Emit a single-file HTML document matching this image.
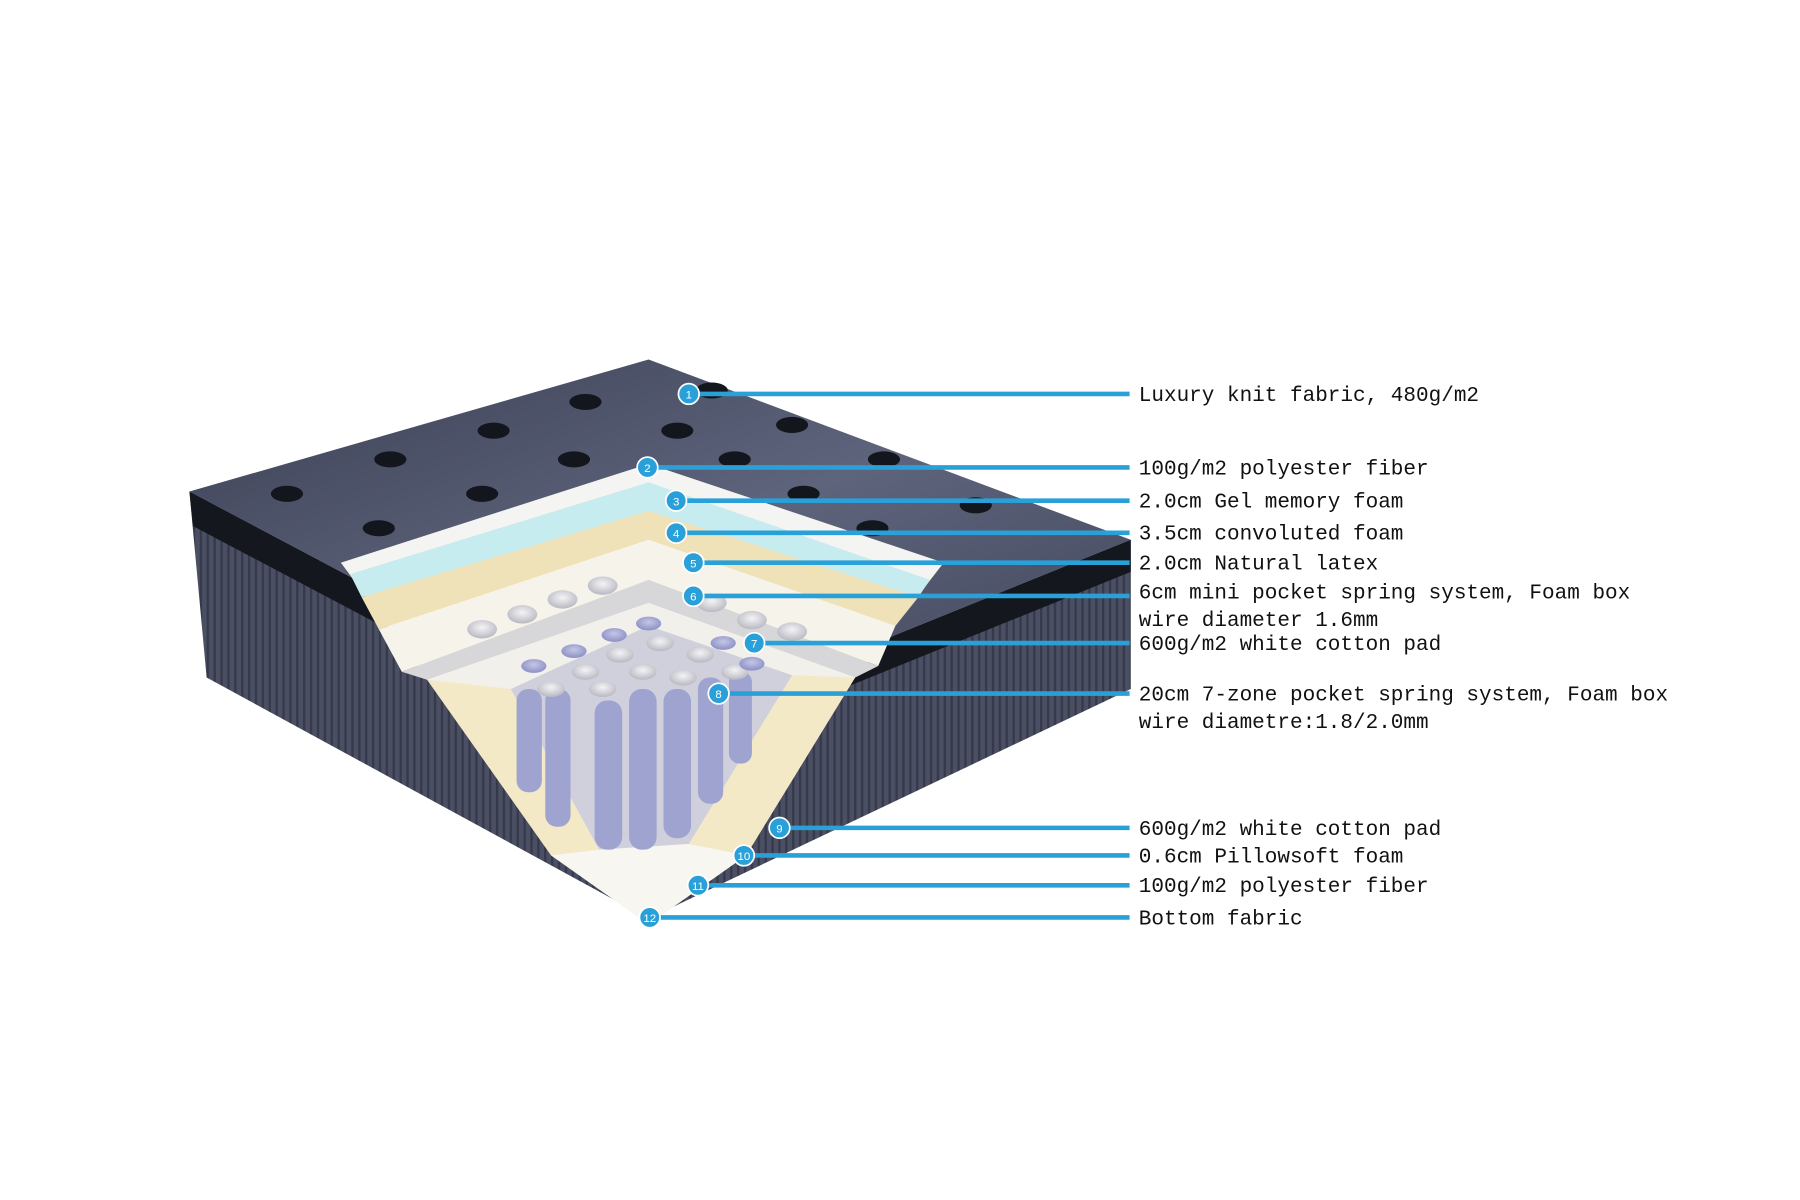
<!DOCTYPE html>
<html><head><meta charset="utf-8"><style>html,body{margin:0;padding:0;background:#fff}svg{display:block}</style></head>
<body>
<svg width="1800" height="1200" viewBox="0 0 1568 1045" xmlns="http://www.w3.org/2000/svg">
<defs>
<linearGradient id="top" x1="0" y1="0" x2="1" y2="1"><stop offset="0" stop-color="#3a3f52"/><stop offset="0.5" stop-color="#5e647c"/><stop offset="1" stop-color="#3d4256"/></linearGradient>
<pattern id="stripe" width="6" height="6" patternUnits="userSpaceOnUse"><rect width="6" height="6" fill="#4a4f63"/><rect width="2" height="6" fill="#353949"/></pattern>
<radialGradient id="coil" cx="0.5" cy="0.4" r="0.6"><stop offset="0" stop-color="#f4f4f6"/><stop offset="1" stop-color="#b8b8c2"/></radialGradient>
<radialGradient id="pcoil" cx="0.5" cy="0.4" r="0.6"><stop offset="0" stop-color="#c4c6e8"/><stop offset="1" stop-color="#8c90c4"/></radialGradient>
</defs>
<polygon points="165,428 565,640 565,800 180,590" fill="url(#stripe)"/>
<polygon points="565,640 985,470 985,600 565,800" fill="url(#stripe)"/>
<polygon points="165,428 565,640 565,668 168,458" fill="#15171f"/>
<polygon points="565,640 985,470 985,498 565,668" fill="#15171f"/>
<polygon points="165,428 565,313 985,470 565,640" fill="url(#top)"/>
<g fill="#14161e">
<ellipse cx="250" cy="430" rx="14" ry="7"/><ellipse cx="340" cy="400" rx="14" ry="7"/><ellipse cx="430" cy="375" rx="14" ry="7"/><ellipse cx="510" cy="350" rx="14" ry="7"/>
<ellipse cx="330" cy="460" rx="14" ry="7"/><ellipse cx="420" cy="430" rx="14" ry="7"/><ellipse cx="500" cy="400" rx="14" ry="7"/><ellipse cx="590" cy="375" rx="14" ry="7"/>
<ellipse cx="640" cy="400" rx="14" ry="7"/><ellipse cx="700" cy="430" rx="14" ry="7"/><ellipse cx="620" cy="340" rx="14" ry="7"/><ellipse cx="690" cy="370" rx="14" ry="7"/><ellipse cx="770" cy="400" rx="14" ry="7"/><ellipse cx="760" cy="460" rx="14" ry="7"/><ellipse cx="850" cy="440" rx="14" ry="7"/>
</g>
<!-- cut face (left/right outer) -->
<polygon points="297,490 372,592 480,745 565,805 650,745 745,590 822,490 565,404" fill="#f3e9c6"/>
<polygon points="297,490 565,404 822,490 810,505 565,420 305,500" fill="#f4f4f2"/>
<polygon points="305,500 565,420 810,505 800,520 565,445 315,520" fill="#c6ecf0"/>
<polygon points="315,520 565,445 800,520 780,545 565,470 330,548" fill="#efe2b8"/>
<polygon points="330,548 565,470 780,545 765,580 565,505 350,585" fill="#f6f3ea"/>
<polygon points="350,585 565,505 765,580 745,590 565,525 372,592" fill="#d7d7da"/>
<polygon points="372,592 565,525 745,590 690,588 565,545 445,600" fill="#f2f0ea"/>
<polygon points="445,600 565,545 690,588 600,735 522,740" fill="#cfd0dc"/>
<polygon points="480,745 522,740 600,735 650,745 565,805" fill="#f7f6f1"/>
<g fill="#9ea3d0">
<rect x="450" y="600" width="22" height="90" rx="10"/><rect x="475" y="600" width="22" height="120" rx="10"/>
<rect x="518" y="610" width="24" height="130" rx="11"/><rect x="548" y="600" width="24" height="140" rx="11"/><rect x="578" y="600" width="24" height="130" rx="11"/><rect x="608" y="590" width="22" height="110" rx="10"/><rect x="635" y="585" width="20" height="80" rx="9"/>
</g>
<g fill="url(#coil)">
<ellipse cx="480" cy="600" rx="12" ry="7"/><ellipse cx="510" cy="585" rx="12" ry="7"/><ellipse cx="540" cy="570" rx="12" ry="7"/><ellipse cx="575" cy="560" rx="12" ry="7"/><ellipse cx="610" cy="570" rx="12" ry="7"/><ellipse cx="640" cy="585" rx="12" ry="7"/>
<ellipse cx="525" cy="600" rx="12" ry="7"/><ellipse cx="560" cy="585" rx="12" ry="7"/><ellipse cx="595" cy="590" rx="12" ry="7"/>
<ellipse cx="420" cy="548" rx="13" ry="8"/><ellipse cx="455" cy="535" rx="13" ry="8"/><ellipse cx="490" cy="522" rx="13" ry="8"/><ellipse cx="525" cy="510" rx="13" ry="8"/><ellipse cx="620" cy="525" rx="13" ry="8"/><ellipse cx="655" cy="540" rx="13" ry="8"/><ellipse cx="690" cy="550" rx="13" ry="8"/>
</g>
<g fill="url(#pcoil)">
<ellipse cx="465" cy="580" rx="11" ry="6"/><ellipse cx="500" cy="567" rx="11" ry="6"/><ellipse cx="535" cy="553" rx="11" ry="6"/><ellipse cx="565" cy="543" rx="11" ry="6"/><ellipse cx="630" cy="560" rx="11" ry="6"/><ellipse cx="655" cy="578" rx="11" ry="6"/>
</g>
<g stroke="#2aa0d8" stroke-width="4">
<line x1="600" y1="343" x2="984" y2="343"/><line x1="564" y1="407" x2="984" y2="407"/><line x1="589" y1="436" x2="984" y2="436"/><line x1="589" y1="464" x2="984" y2="464"/><line x1="604" y1="490" x2="984" y2="490"/><line x1="604" y1="519" x2="984" y2="519"/><line x1="657" y1="560" x2="984" y2="560"/><line x1="626" y1="604" x2="984" y2="604"/><line x1="679" y1="721" x2="984" y2="721"/><line x1="648" y1="745" x2="984" y2="745"/><line x1="608" y1="771" x2="984" y2="771"/><line x1="566" y1="799" x2="984" y2="799"/>
</g>
<g fill="#2aa0d8" stroke="#fff" stroke-width="1.5">
<circle cx="600" cy="343" r="9"/><circle cx="564" cy="407" r="9"/><circle cx="589" cy="436" r="9"/><circle cx="589" cy="464" r="9"/><circle cx="604" cy="490" r="9"/><circle cx="604" cy="519" r="9"/><circle cx="657" cy="560" r="9"/><circle cx="626" cy="604" r="9"/><circle cx="679" cy="721" r="9"/><circle cx="648" cy="745" r="9"/><circle cx="608" cy="771" r="9"/><circle cx="566" cy="799" r="9"/>
</g>
<g fill="#fff" font-family="Liberation Sans, sans-serif" font-size="10" text-anchor="middle">
<text x="600" y="347">1</text><text x="564" y="411">2</text><text x="589" y="440">3</text><text x="589" y="468">4</text><text x="604" y="494">5</text><text x="604" y="523">6</text><text x="657" y="564">7</text><text x="626" y="608">8</text><text x="679" y="725">9</text><text x="648" y="749">10</text><text x="608" y="775">11</text><text x="566" y="803">12</text>
</g>
<g fill="#111" font-family="Liberation Mono, monospace" font-size="18.3">
<text x="992" y="349">Luxury knit fabric, 480g/m2</text>
<text x="992" y="413">100g/m2 polyester fiber</text>
<text x="992" y="442">2.0cm Gel memory foam</text>
<text x="992" y="470">3.5cm convoluted foam</text>
<text x="992" y="496">2.0cm Natural latex</text>
<text x="992" y="521">6cm mini pocket spring system, Foam box</text>
<text x="992" y="545">wire diameter 1.6mm</text>
<text x="992" y="566">600g/m2 white cotton pad</text>
<text x="992" y="610">20cm 7-zone pocket spring system, Foam box</text>
<text x="992" y="634">wire diametre:1.8/2.0mm</text>
<text x="992" y="727">600g/m2 white cotton pad</text>
<text x="992" y="751">0.6cm Pillowsoft foam</text>
<text x="992" y="777">100g/m2 polyester fiber</text>
<text x="992" y="805">Bottom fabric</text>
</g>
</svg>
</body></html>
